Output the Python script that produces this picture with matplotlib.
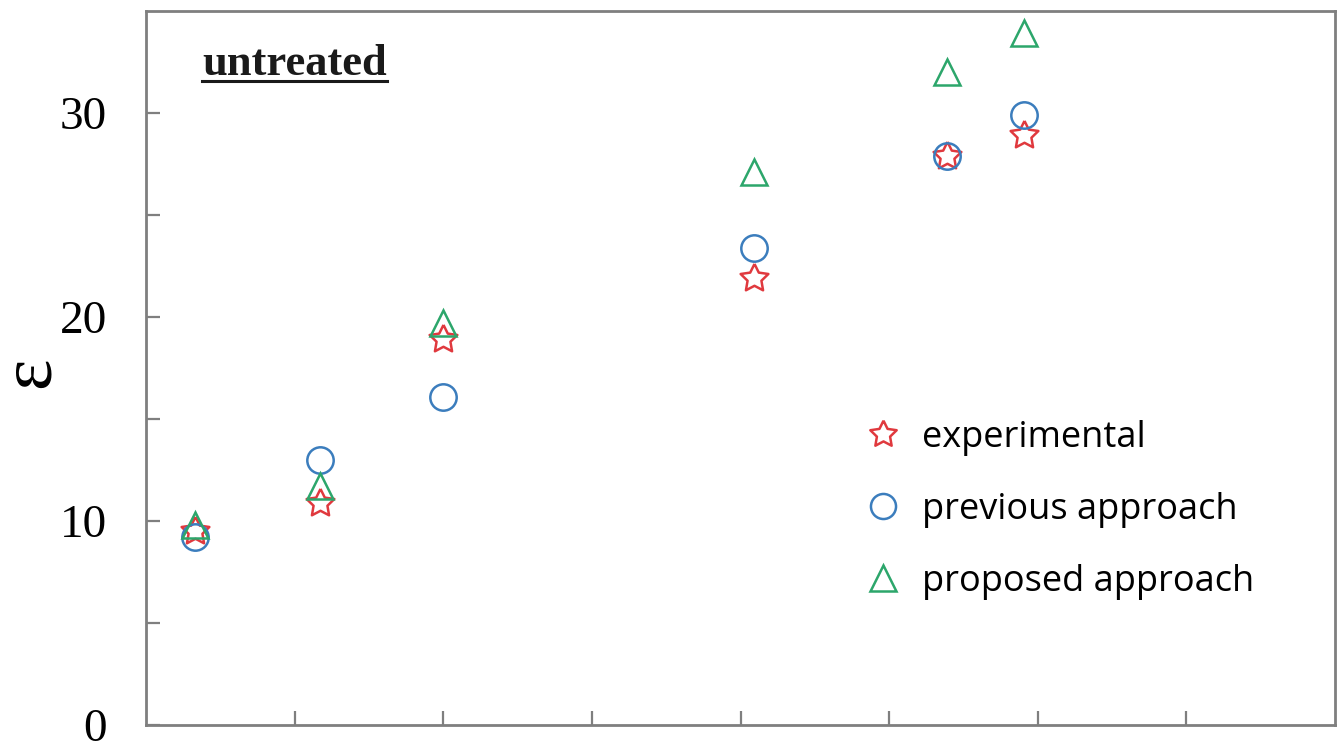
import numpy as np
import matplotlib.pyplot as plt

# posiciones en x (sin etiquetas en el eje) y valores de epsilon
x_pos = [0.33, 1.17, 2.0, 4.09, 5.39, 5.91]
experimental = [9.5, 10.9, 18.9, 21.9, 27.9, 28.9]
previo = [9.2, 13.0, 16.1, 23.4, 27.9, 29.9]
propuesto = [9.8, 11.7, 19.7, 27.1, 32.0, 33.9]

rojo = '#e0393e'
azul = '#3b7dbd'
verde = '#2ca66b'
gris = '#7f7f7f'

# estrella de cinco puntas algo más gruesa que la de matplotlib
ang = np.pi / 2 + np.arange(11) * np.pi / 5
rad = np.where(np.arange(11) % 2 == 0, 1.0, 0.5)
estrella = list(zip(rad * np.cos(ang), rad * np.sin(ang)))

fig = plt.figure(figsize=(13.41, 7.46), dpi=100)
ax = fig.add_axes([146/1341, (746-725)/746, (1335-146)/1341, (725-11)/746])

ax.plot(x_pos, experimental, linestyle='none', marker=estrella, ms=21, mfc='none',
        mec=rojo, mew=1.8, label='experimental')
ax.plot(x_pos, previo, linestyle='none', marker='o', ms=19, mfc='none',
        mec=azul, mew=1.8, label='previous approach')
ax.plot(x_pos, propuesto, linestyle='none', marker='^', ms=19, mfc='none',
        mec=verde, mew=1.8, label='proposed approach')

ax.set_xlim(0, 8)
ax.set_ylim(0, 35)
ax.set_xticks(np.arange(1, 8))
ax.set_xticklabels([])
ax.set_yticks([0, 10, 20, 30])
ax.set_yticks([5, 15, 25], minor=True)
ax.tick_params(axis='both', which='both', direction='in', color=gris, width=1.6)
ax.tick_params(axis='y', which='both', length=10, pad=28)
ax.tick_params(axis='x', length=10)
for lab in ax.get_yticklabels():
    lab.set_fontfamily('Liberation Serif')
    lab.set_fontsize(34)
for s in ax.spines.values():
    s.set_color(gris)
    s.set_linewidth(2)

fondo = ax.transAxes
ax.text(31 / 1341, (746 - 372) / 746, 'ε', transform=fig.transFigure, rotation=90,
        fontsize=54, fontfamily='Liberation Serif', ha='center', va='center')

titulo = ax.text(0.047, (725 - 75) / 714, 'untreated', transform=fondo,
                 fontsize=32, fontweight='bold', color='#1a1a1a',
                 fontfamily='Liberation Serif', va='baseline')

leg = ax.legend(loc='upper left', bbox_to_anchor=(0.577, 0.473), frameon=False,
                prop={'family': 'Open Sans', 'size': 26}, labelspacing=1.0,
                handletextpad=0.6, handlelength=1.0)
for h in leg.legend_handles:
    h.set_markersize(h.get_markersize() * 0.95)

# subrayado del texto
fig.canvas.draw()
bb = titulo.get_window_extent().transformed(fondo.inverted())
y_sub = (725 - 81) / 714
ax.plot([bb.x0, bb.x1], [y_sub, y_sub], transform=fondo,
        color='#1a1a1a', lw=2.2, clip_on=False)

fig.savefig('out.png', dpi=100)
